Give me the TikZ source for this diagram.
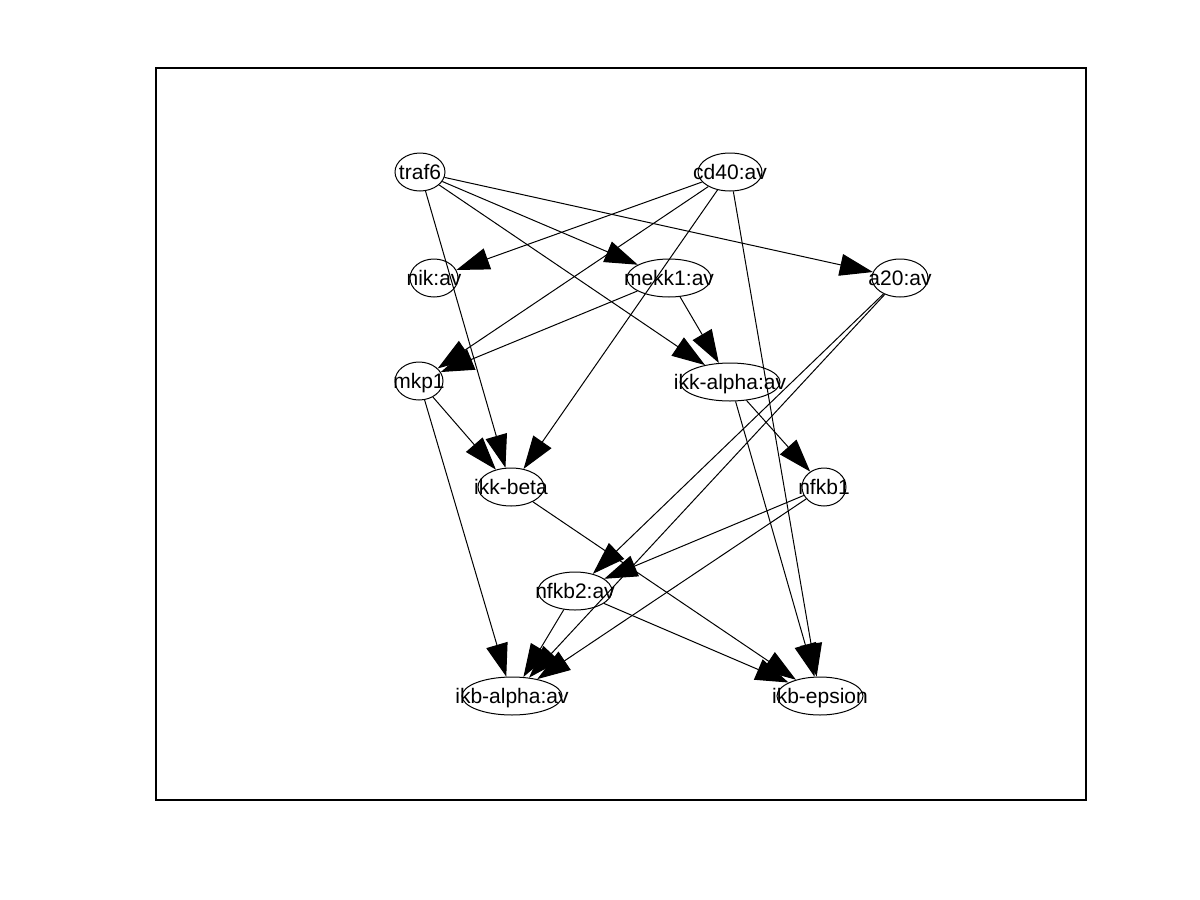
\documentclass[tikz,border=0pt]{standalone}
\usepackage{fontspec}
\setmainfont{Liberation Sans}
\usetikzlibrary{shapes.geometric,arrows.meta}
\begin{document}
\begin{tikzpicture}[x=0.5pt,y=-0.5pt,
  ell/.style={draw,ellipse,inner sep=0pt,line width=0.5pt,
    minimum height=19pt},
  lbl/.style={anchor=base,font=\fontsize{10.5pt}{12pt}\selectfont,inner sep=0pt,yshift=-3.7pt},
  edge/.style={line width=0.5pt,-{Triangle[length=16.5pt,width=11pt]}}]
\useasboundingbox (0,0) rectangle (1200,900);
\draw[line width=0.6pt] (156,68) rectangle (1086,800);
% nodes: position and half width in px
\foreach \n/\x/\y/\r/\t in {
  traf6/420/172/25/traf6,
  cd40/730/172/32/cd40:av,
  nik/434/278/24/nik:av,
  mekk1/669/278/42/mekk1:av,
  a20/900/278/28/a20:av,
  mkp1/419/381/24/mkp1,
  ikkalpha/730/382/50/ikk-alpha:av,
  ikkbeta/511/487/33/ikk-beta,
  nfkb1/824/487/22/nfkb1,
  nfkb2/575/591/37/nfkb2:av,
  ikbalpha/512/696/50/ikb-alpha:av,
  ikbeps/820/696/43/ikb-epsion}{
  \node[ell,minimum width=\r pt] (\n) at (\x,\y) {};
  \node[lbl] (\n-t) at (\n.center) {\t};
}
% interactions
\draw[edge] (traf6) -- (mekk1);
\draw[edge] (traf6) -- (a20);
\draw[edge] (traf6) -- (ikkalpha);
\draw[edge] (traf6) -- (ikkbeta);
\draw[edge] (cd40) -- (nik);
\draw[edge] (cd40) -- (mkp1);
\draw[edge] (cd40) -- (ikkbeta);
\draw[edge] (cd40) -- (ikbeps);
\draw[edge] (mekk1) -- (mkp1);
\draw[edge] (mekk1) -- (ikkalpha);
\draw[edge] (mkp1) -- (ikkbeta);
\draw[edge] (mkp1) -- (ikbalpha);
\draw[edge] (ikkalpha) -- (nfkb1);
\draw[edge] (ikkalpha) -- (ikbeps);
\draw[edge] (a20) -- (nfkb2);
\draw[edge] (a20) -- (ikbalpha);
\draw[edge] (ikkbeta) -- (ikbeps);
\draw[edge] (nfkb1) -- (nfkb2);
\draw[edge] (nfkb1) -- (ikbalpha);
\draw[edge] (nfkb2) -- (ikbalpha);
\draw[edge] (nfkb2) -- (ikbeps);
\end{tikzpicture}
\end{document}
